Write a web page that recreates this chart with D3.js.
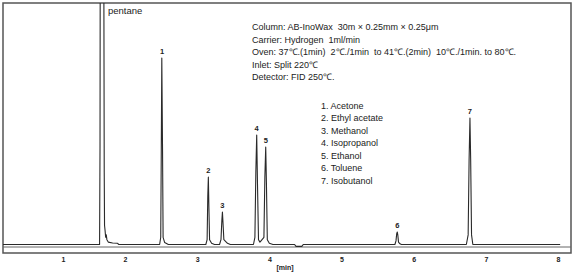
<!DOCTYPE html>
<html>
<head>
<meta charset="utf-8">
<script src="https://cdn.jsdelivr.net/npm/d3@7"></script>
<style>
  html, body { margin: 0; padding: 0; background: #fff; }
  svg { display: block; font-family: "Liberation Sans", Arial, sans-serif; }
  svg text { white-space: pre; }
</style>
</head>
<body>
<div id="chart"></div>
<script>
'use strict';

// x axis labels (minutes)
const xTicks = [1, 2, 3, 4, 5, 6, 7, 8];

// numbered peaks: retention time (min) and height (% of full scale)
const peakLabels = ['1', '2', '3', '4', '5', '6', '7'];
const peakTimes = [2.513, 3.155, 3.35, 3.825, 3.95, 5.773, 6.78];
const peakHeights = [77.5, 28, 13.5, 45.5, 40.5, 5.2, 52.6];

const compounds = ['Acetone', 'Ethyl acetate', 'Methanol', 'Isopropanol', 'Ethanol', 'Toluene', 'Isobutanol'];

const conditions = [
  'Column: AB-InoWax  30m \u00d7 0.25mm \u00d7 0.25\u03bcm',
  'Carrier: Hydrogen  1ml/min',
  'Oven: 37\u2103.(1min)  2\u2103./1min  to 41\u2103.(2min)  10\u2103./1min. to 80\u2103.',
  'Inlet: Split 220\u2103',
  'Detector: FID 250\u2103.'
];

// detector trace [time (min), signal (% of full scale)]
const trace = [
  [0.03, 0], [1.590, 0], [1.597, 40], [1.602, 160], [1.655, 160], [1.665, 30],
  [1.670, 8], [1.678, 6], [1.688, 3], [1.698, 4], [1.708, 2], [1.73, 1],
  [1.80, 0.6], [1.88, 0.5], [1.90, 0],
  [2.48, 0], [2.495, 3], [2.503, 40], [2.510, 77.5], [2.520, 40], [2.528, 3], [2.55, 0.8], [2.60, 0],
  [3.12, 0], [3.138, 2], [3.147, 20], [3.155, 28], [3.163, 15], [3.172, 2], [3.20, 0.5], [3.24, 0],
  [3.31, 0], [3.33, 2], [3.342, 10], [3.350, 13.5], [3.358, 9], [3.37, 2], [3.42, 0.5], [3.46, 0],
  [3.78, 0], [3.80, 3], [3.813, 30], [3.825, 45.5], [3.836, 25], [3.85, 2], [3.87, 1],
  [3.925, 3], [3.938, 28], [3.950, 40.5], [3.960, 25], [3.972, 2], [4.00, 0.5], [4.05, 0],
  [4.35, 0], [4.37, -0.8], [4.45, -0.8], [4.47, 0],
  [5.74, 0], [5.755, 1.5], [5.765, 4.5], [5.773, 5.2], [5.780, 4], [5.79, 1], [5.81, 0.3], [5.83, 0],
  [6.73, 0], [6.755, 4], [6.768, 35], [6.780, 52.6], [6.790, 35], [6.802, 4], [6.82, 0],
  [8.03, 0]
];

const width = 574;
const height = 273;
const frame = { left: 3, top: 3, right: 571, bottom: 253 };
const baseY = 244.5;

// the printed time axis is not evenly spaced between 1 and 2 min
const x = d3.scaleLinear([1, 2, 8], [63, 125, 558]);
const y = d3.scaleLinear([0, 100], [baseY, 4]);

const svg = d3.select('#chart')
  .append('svg')
  .attr('width', width)
  .attr('height', height)
  .attr('viewBox', [0, 0, width, height]);

svg.append('defs')
  .append('clipPath')
  .attr('id', 'plot-clip')
  .append('rect')
  .attr('x', frame.left)
  .attr('y', frame.top)
  .attr('width', frame.right - frame.left)
  .attr('height', frame.bottom - frame.top);

// frame
svg.append('rect')
  .attr('x', frame.left)
  .attr('y', frame.top)
  .attr('width', frame.right - frame.left)
  .attr('height', frame.bottom - frame.top)
  .attr('fill', 'none')
  .attr('stroke', '#555')
  .attr('stroke-width', 1.5);

svg.append('line')
  .attr('x1', frame.left)
  .attr('x2', frame.right)
  .attr('y1', baseY + 2.5)
  .attr('y2', baseY + 2.5)
  .attr('stroke', '#666')
  .attr('stroke-width', 1);

// trace
const line = d3.line()
  .x((d) => x(d[0]))
  .y((d) => y(d[1]));

svg.append('path')
  .attr('clip-path', 'url(#plot-clip)')
  .attr('d', line(trace))
  .attr('fill', 'none')
  .attr('stroke', '#2a2a2a')
  .attr('stroke-width', 1.1)
  .attr('stroke-linejoin', 'round');

// peak numbers
svg.append('g')
  .selectAll('text')
  .data(peakLabels)
  .join('text')
  .attr('x', (d, i) => x(peakTimes[i]))
  .attr('y', (d, i) => y(peakHeights[i]) - 4)
  .attr('text-anchor', 'middle')
  .attr('font-size', 7.5)
  .attr('font-weight', 'bold')
  .attr('fill', '#222')
  .text((d) => d);

svg.append('text')
  .attr('x', 108)
  .attr('y', 14)
  .attr('font-size', 9.5)
  .attr('fill', '#222')
  .text('pentane');

// run conditions
svg.append('g')
  .selectAll('text')
  .data(conditions)
  .join('text')
  .attr('x', 252)
  .attr('y', (d, i) => 30 + i * 12.5)
  .attr('font-size', 9)
  .attr('fill', '#222')
  .text((d) => d);

// compound list
svg.append('g')
  .selectAll('text')
  .data(compounds)
  .join('text')
  .attr('x', 321)
  .attr('y', (d, i) => 108.5 + i * 12.5)
  .attr('font-size', 9)
  .attr('fill', '#222')
  .text((d, i) => `${peakLabels[i]}. ${d}`);

// time axis
const xAxis = d3.axisBottom(x)
  .tickValues(xTicks)
  .tickSize(0)
  .tickPadding(4)
  .tickFormat(d3.format('d'));

svg.append('g')
  .attr('transform', `translate(0, ${frame.bottom})`)
  .call(xAxis)
  .call((g) => g.select('.domain').remove())
  .call((g) => g.selectAll('text')
    .attr('font-family', '"Liberation Sans", Arial, sans-serif')
    .attr('font-size', 7)
    .attr('font-weight', 'bold')
    .attr('fill', '#222'));

svg.append('text')
  .attr('x', 285)
  .attr('y', 270)
  .attr('text-anchor', 'middle')
  .attr('font-size', 7)
  .attr('font-weight', 'bold')
  .attr('fill', '#222')
  .text('[min]');
</script>
</body>
</html>
